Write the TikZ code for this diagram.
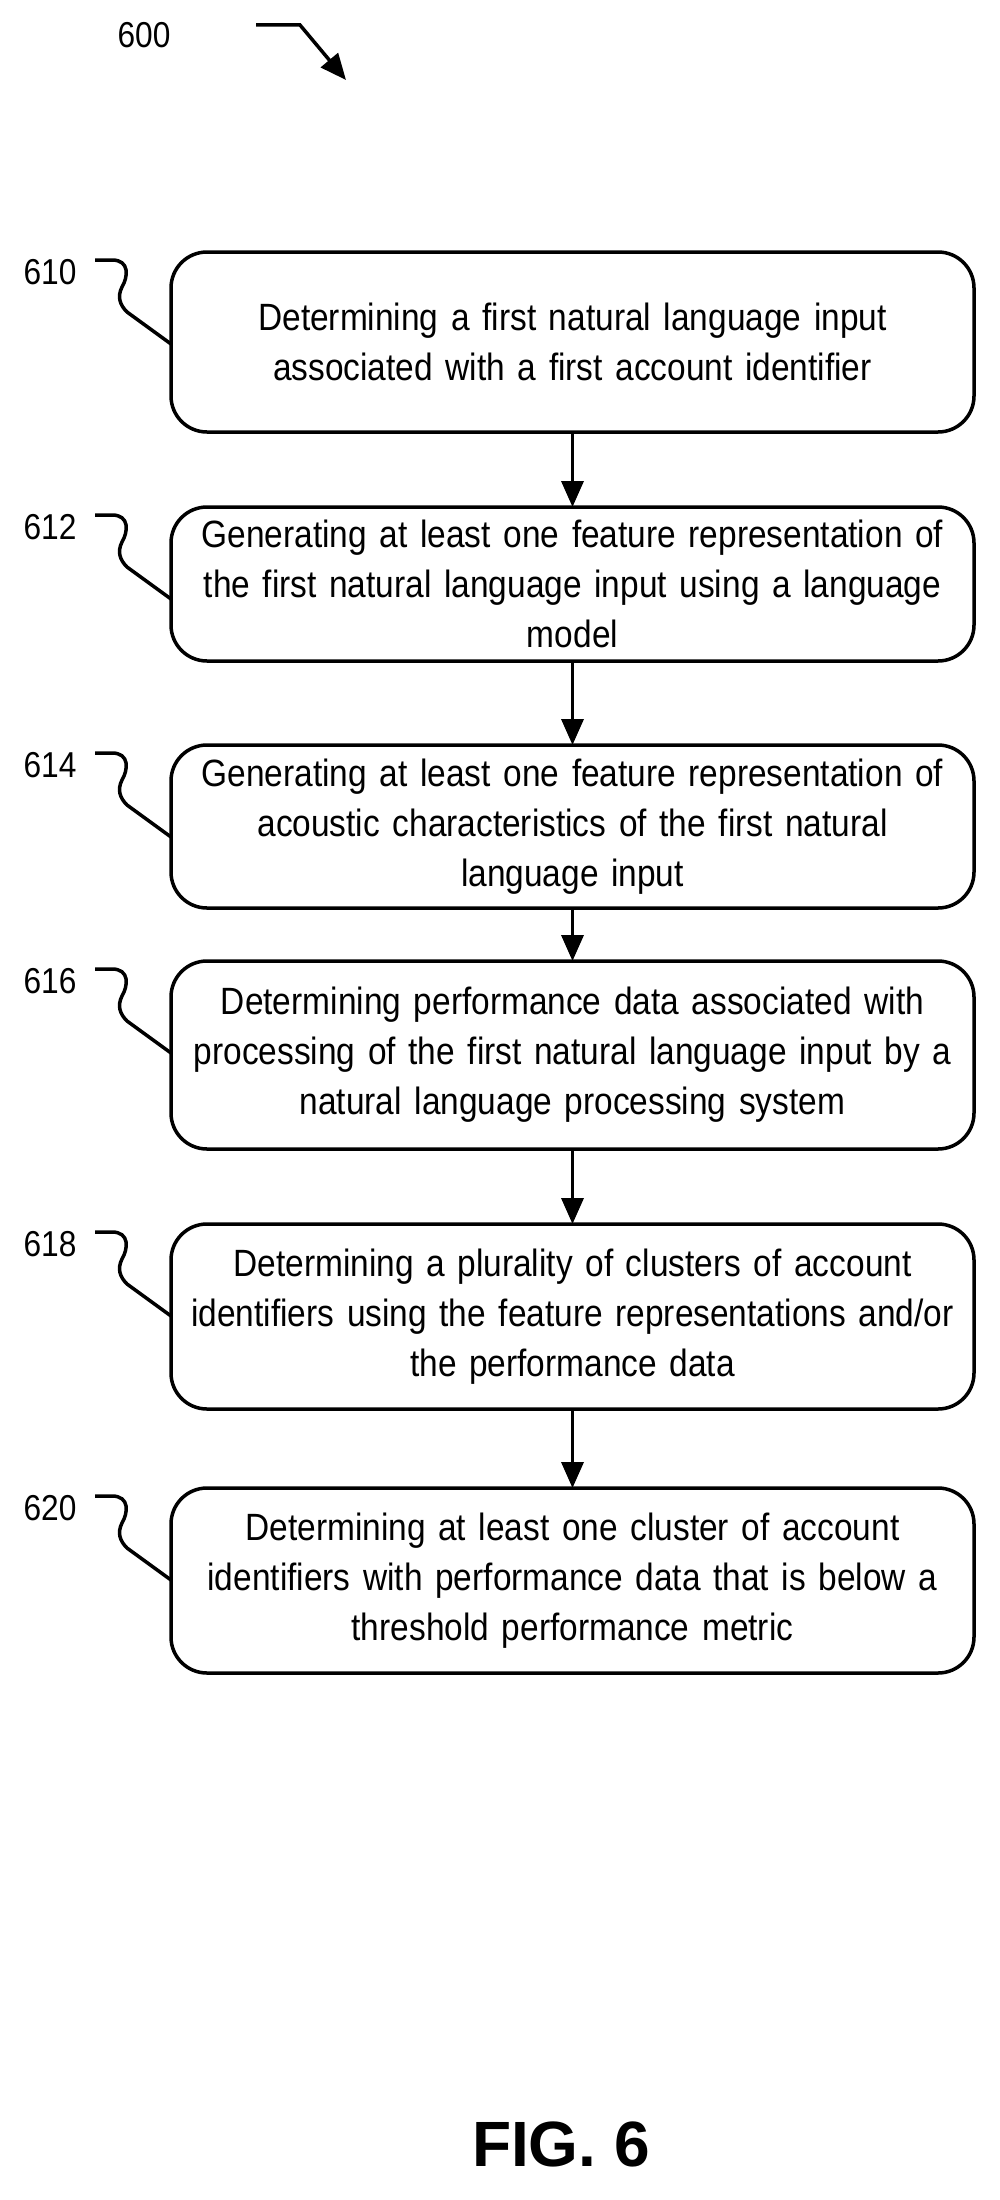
\documentclass[tikz,border=0pt]{standalone}
\usepackage{fontspec}
\setmainfont{Liberation Sans}
\newfontfamily\narrowf[FakeStretch=0.88]{Liberation Sans}
\usetikzlibrary{arrows.meta}
\begin{document}
\begin{tikzpicture}[x=1pt,y=-1pt,
  box/.style={draw,line width=3.5pt,rounded corners=36pt,inner sep=0pt},
  txt/.style={align=center,text width=800pt,font=\narrowf\fontsize{38}{50}\selectfont},
  lab/.style={font=\narrowf\fontsize{36}{40}\selectfont},
  arr/.style={line width=3.5pt,-{Triangle[width=22pt,length=26pt]}},
  sq/.style={line width=3.5pt}]
\useasboundingbox (0,0) rectangle (999,2200);
\node[lab] (l600) at (144,35) {600};
\coordinate (a1) at (256,25);
\coordinate (a2) at (346,80);
\draw[arr] (a1) -- (300,25) -- (a2);
\foreach \n/\t/\b/\tx in {
 610/252/432/{Determining a first natural language input\\associated with a first account identifier},
 612/507/661/{Generating at least one feature representation of\\the first natural language input using a language\\model},
 614/745/908/{Generating at least one feature representation of\\acoustic characteristics of the first natural\\language input},
 616/961/1149/{Determining performance data associated with\\processing of the first natural language input by a\\natural language processing system},
 618/1224/1409/{Determining a plurality of clusters of account\\identifiers using the feature representations and/or\\the performance data},
 620/1488/1673/{Determining at least one cluster of account\\identifiers with performance data that is below a\\threshold performance metric}}{
  \draw[box] (171,\t) rectangle (974,\b);
  \node[txt] (b\n) at (572.5,{(\t+\b)/2}) {\tx};
  \node[lab] (l\n) at (50,\t+20) {\n};
  \coordinate (s\n) at (95,\t+8);
  \coordinate (e\n) at (171,\t+92);
  \draw[sq] (s\n) -- (112,\t+8) .. controls (130,\t+8) and (128,\t+25) .. (122,\t+35) .. controls (117,\t+45) and (120,\t+53) .. (127,\t+60) -- (e\n);
}
\draw[arr] (572.5,432) -- (572.5,507);
\draw[arr] (572.5,661) -- (572.5,745);
\draw[arr] (572.5,908) -- (572.5,961);
\draw[arr] (572.5,1149) -- (572.5,1224);
\draw[arr] (572.5,1409) -- (572.5,1488);
\node[font=\fontsize{64}{66}\selectfont\bfseries] (fig) at (561,2144) {FIG. 6};
\end{tikzpicture}
\end{document}
